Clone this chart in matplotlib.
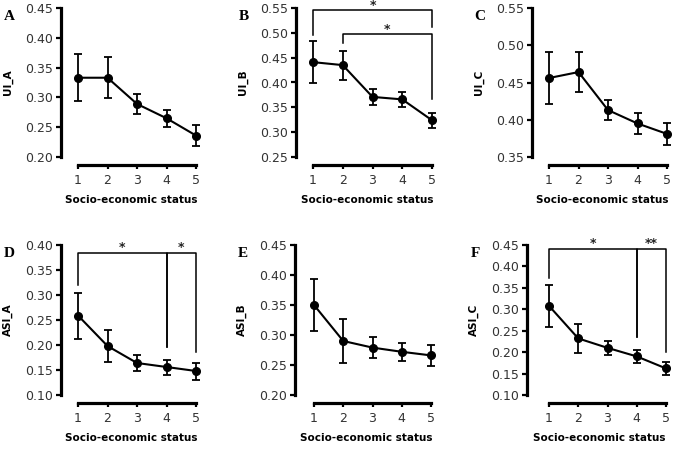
import matplotlib
matplotlib.use('Agg')
import matplotlib.pyplot as plt

W, H = 685, 450

ses = [1, 2, 3, 4, 5]

# means and error bar half-widths
ui_a = [0.333, 0.333, 0.289, 0.265, 0.236]
ui_a_err = [0.039, 0.034, 0.017, 0.014, 0.018]
ui_b = [0.441, 0.435, 0.371, 0.366, 0.324]
ui_b_err = [0.043, 0.029, 0.016, 0.015, 0.015]
ui_c = [0.456, 0.464, 0.413, 0.395, 0.381]
ui_c_err = [0.035, 0.027, 0.013, 0.014, 0.015]
asi_a = [0.259, 0.198, 0.164, 0.156, 0.148]
asi_a_err = [0.046, 0.032, 0.016, 0.015, 0.017]
asi_b = [0.350, 0.290, 0.279, 0.272, 0.266]
asi_b_err = [0.043, 0.036, 0.018, 0.015, 0.018]
asi_c = [0.308, 0.232, 0.210, 0.190, 0.162]
asi_c_err = [0.049, 0.034, 0.017, 0.015, 0.016]

# significance brackets: (x_left, x_right, bar_y, left_leg_end, right_leg_end, star_x, label)
brackets_b = [(1, 5, 0.545, 0.496, 0.512, 3.0, '*'),
              (2, 5, 0.497, 0.479, 0.367, 3.5, '*')]
brackets_d = [(1, 4, 0.385, 0.320, 0.197, 2.5, '*'),
              (4, 5, 0.385, 0.197, 0.187, 4.5, '*')]
brackets_f = [(1, 4, 0.441, 0.374, 0.236, 2.5, '*'),
              (4, 5, 0.441, 0.236, 0.201, 4.5, '**')]

# letter, ylabel, values, errors, y range, brackets, pixel box (spine x, x of 1, x of 5, top, bottom)
panels = [
    ('A', 'UI_A', ui_a, ui_a_err, (0.20, 0.45), [], (61, 78, 196, 8, 157)),
    ('B', 'UI_B', ui_b, ui_b_err, (0.25, 0.55), brackets_b, (296, 313, 432, 8, 157)),
    ('C', 'UI_C', ui_c, ui_c_err, (0.35, 0.55), [], (532, 549, 667, 8, 157)),
    ('D', 'ASI_A', asi_a, asi_a_err, (0.10, 0.40), brackets_d, (61, 78, 196, 245, 395)),
    ('E', 'ASI_B', asi_b, asi_b_err, (0.20, 0.45), [], (295, 314, 431, 245, 395)),
    ('F', 'ASI_C', asi_c, asi_c_err, (0.10, 0.45), brackets_f, (527, 549, 666, 245, 395)),
]

fig = plt.figure(figsize=(W / 100, H / 100), dpi=100)

for letter, ylab, vals, errs, (y0, y1), brs, (sx, px1, px5, top, bot) in panels:
    ppu = (px5 - px1) / 4.0
    right = px5 + 6
    ax = fig.add_axes([sx / W, 1 - bot / H, (right - sx) / W, (bot - top) / H])
    ax.set_xlim(1 - (px1 - sx) / ppu, 5 + 6 / ppu)
    ax.set_ylim(y0, y1)

    ax.errorbar(ses, vals, yerr=errs, color='black', lw=1.5, marker='o', ms=5.5,
                capsize=3, capthick=1.3, elinewidth=1.3, clip_on=False)

    for xl, xr, by, le, re, stx, lab in brs:
        ax.plot([xl, xl, xr, xr], [le, by, by, re], color='black', lw=1.1, clip_on=False)
        ax.annotate(lab, (stx, by), xytext=(0, 1), textcoords='offset points',
                    ha='center', va='baseline', fontsize=9, fontweight='bold', color='#222222')

    for s in ['top', 'right']:
        ax.spines[s].set_visible(False)
    ax.spines['left'].set_linewidth(2.3)
    ax.spines['bottom'].set_linewidth(2.3)
    ax.spines['bottom'].set_position(('outward', 6))
    ax.spines['bottom'].set_bounds(1, 5)

    n = int(round((y1 - y0) / 0.05))
    ax.set_yticks([y0 + 0.05 * i for i in range(n + 1)])
    ax.set_yticklabels(['%.2f' % (y0 + 0.05 * i) for i in range(n + 1)])
    ax.set_xticks(ses)
    ax.tick_params(axis='y', length=3.5, width=1.6, labelsize=9, labelcolor='#333333', pad=2)
    ax.tick_params(axis='x', length=3, width=1.6, labelsize=9, labelcolor='#333333', pad=3)

    ax.set_xlabel('Socio-economic status', fontsize=7.5, fontweight='bold', labelpad=6)
    ax.set_ylabel(ylab, fontsize=7.5, fontweight='bold')
    ax.yaxis.set_label_coords((sx - 48) / W, 1 - (top + bot) / 2 / H, transform=fig.transFigure)

    fig.text((sx - 52) / W, 1 - (top + 2) / H, letter, fontsize=11, fontweight='bold',
             family='Liberation Serif', ha='center', va='top')

fig.savefig('out.png', dpi=100)
